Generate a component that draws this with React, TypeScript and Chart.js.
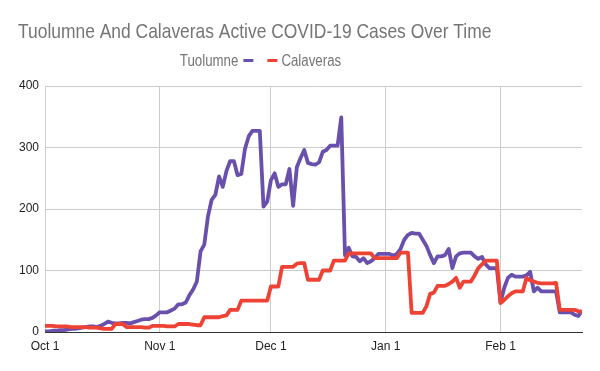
import React, { useEffect, useRef } from 'react';
import { Chart, registerables } from 'chart.js';

Chart.register(...registerables);

const TITLE = 'Tuolumne And Calaveras Active COVID-19 Cases Over Time';
const SERIES_NAMES = ['Tuolumne', 'Calaveras'];
const SERIES_COLORS = ['#6a50ad', '#ee4235'];
const MONTHS = ['Jan', 'Feb', 'Mar', 'Apr', 'May', 'Jun', 'Jul', 'Aug', 'Sep', 'Oct', 'Nov', 'Dec'];
const START_YEAR = 2020;
const START_MONTH = 9; // October
const Y_TICKS = [0, 100, 200, 300, 400];

const tuolumne = [
  1, 1, 2, 2, 3, 3, 4, 5, 5, 6,
  7, 8, 9, 9, 8, 10, 13, 17, 15, 14,
  14, 15, 15, 14, 16, 18, 20, 21, 21, 23,
  27, 32, 32, 32, 35, 38, 45, 45, 48, 60,
  69, 82, 131, 142, 188, 215, 223, 253, 236, 262,
  278, 278, 255, 257, 298, 318, 327, 327, 327, 204,
  212, 247, 258, 236, 240, 240, 265, 205, 268, 283,
  296, 275, 273, 272, 276, 293, 296, 303, 303, 303,
  349, 125, 137, 123, 122, 115, 120, 112, 115, 120,
  127, 127, 127, 127, 124, 127, 135, 150, 158, 161,
  160, 160, 150, 140, 125, 112, 123, 123, 125, 135,
  104, 123, 128, 129, 129, 129, 123, 119, 122, 110,
  104, 104, 104, 48, 72, 88, 93, 90, 90, 90,
  92, 98, 66, 72, 66, 66, 66, 66, 66, 32,
  32, 32, 32, 28, 26, 35,
];

const calaveras = [
  10, 10, 10, 9, 9, 9, 9, 8, 8, 8,
  8, 8, 7, 7, 7, 6, 5, 5, 5, 13,
  13, 13, 8, 8, 8, 8, 8, 7, 7, 10,
  10, 10, 10, 9, 9, 9, 13, 13, 13, 13,
  12, 11, 11, 24, 24, 24, 24, 24, 26, 27,
  36, 36, 36, 51, 51, 51, 51, 51, 51, 51,
  51, 74, 74, 74, 106, 106, 106, 106, 111, 112,
  112, 85, 85, 85, 85, 100, 100, 100, 116, 116,
  116, 116, 128, 128, 128, 128, 128, 128, 128, 120,
  120, 120, 120, 120, 120, 120, 129, 129, 129, 31,
  31, 31, 31, 42, 62, 64, 75, 75, 75, 78,
  82, 88, 72, 82, 82, 82, 92, 104, 110, 116,
  116, 116, 116, 47, 52, 58, 63, 66, 66, 66,
  88, 84, 82, 80, 79, 79, 79, 79, 80, 36,
  36, 36, 36, 36, 34, 33,
];

// Day labels (one per data point)
const dayLabels: string[] = [];
const monthStartIdx: number[] = [];
for (let i = 0; i < tuolumne.length; i++) {
  const d = new Date(START_YEAR, START_MONTH, 1 + i);
  dayLabels.push(`${MONTHS[d.getMonth()]} ${d.getDate()}`);
  if (d.getDate() === 1) monthStartIdx.push(i);
}

const FONT = '"Liberation Sans", Arial, sans-serif';

function drawNarrow(ctx: CanvasRenderingContext2D, text: string, x: number, y: number, sx: number) {
  ctx.save();
  ctx.translate(x, y);
  ctx.scale(sx, 1);
  ctx.fillText(text, 0, 0);
  ctx.restore();
}

const headerPlugin = {
  id: 'header',
  afterDraw(chart: any) {
    const ctx: CanvasRenderingContext2D = chart.ctx;
    const sx = 0.83;
    ctx.save();
    ctx.textBaseline = 'alphabetic';
    ctx.textAlign = 'left';
    ctx.fillStyle = '#757575';
    ctx.font = `21px ${FONT}`;
    drawNarrow(ctx, TITLE, 18, 38, sx);

    ctx.font = `16px ${FONT}`;
    const w1 = ctx.measureText(SERIES_NAMES[0]).width * sx;
    const w2 = ctx.measureText(SERIES_NAMES[1]).width * sx;
    const mark = 10;
    const total = w1 + 5 + mark + 14 + mark + 4 + w2;
    let x = 260.5 - total / 2;
    const base = 66;
    ctx.fillStyle = '#757575';
    drawNarrow(ctx, SERIES_NAMES[0], x, base, sx);
    x += w1 + 5;
    ctx.fillStyle = SERIES_COLORS[0];
    ctx.fillRect(x, 59, mark, 3);
    x += mark + 14;
    ctx.fillStyle = SERIES_COLORS[1];
    ctx.fillRect(x, 59, mark, 3);
    x += mark + 4;
    ctx.fillStyle = '#757575';
    drawNarrow(ctx, SERIES_NAMES[1], x, base, sx);
    ctx.restore();
  },
};

export default function App() {
  const ref = useRef<HTMLCanvasElement | null>(null);

  useEffect(() => {
    if (!ref.current) return;
    const toXY = (arr: number[]) => arr.map((v, i) => ({ x: i, y: v }));
    const chart = new Chart(ref.current, {
      type: 'line',
      data: {
        labels: dayLabels,
        datasets: [
          {
            label: SERIES_NAMES[0],
            data: toXY(tuolumne),
            borderColor: SERIES_COLORS[0],
            backgroundColor: SERIES_COLORS[0],
            borderWidth: 3.8,
            pointRadius: 0,
            tension: 0,
            borderJoinStyle: 'round',
            order: 1,
          },
          {
            label: SERIES_NAMES[1],
            data: toXY(calaveras),
            borderColor: SERIES_COLORS[1],
            backgroundColor: SERIES_COLORS[1],
            borderWidth: 3.8,
            pointRadius: 0,
            tension: 0,
            borderJoinStyle: 'round',
            order: 0,
          },
        ],
      },
      options: {
        responsive: false,
        animation: false,
        events: [],
        layout: { padding: { top: 86, right: 18, left: 0, bottom: 0 } },
        plugins: {
          legend: { display: false },
          title: { display: false },
          tooltip: { enabled: false },
        },
        scales: {
          x: {
            type: 'linear',
            min: 0,
            max: tuolumne.length - 1,
            afterBuildTicks: (scale: any) => {
              scale.ticks = monthStartIdx.map((v) => ({ value: v }));
            },
            afterFit: (scale: any) => {
              scale.height = 39;
            },
            ticks: {
              autoSkip: false,
              maxRotation: 0,
              padding: 7,
              color: '#222',
              font: { family: FONT, size: 12 },
              callback: (value: any) => dayLabels[Math.round(Number(value))],
            },
            grid: { color: '#cccccc', lineWidth: 1, drawTicks: false },
            border: { display: true, color: '#333', width: 1 },
          },
          y: {
            min: 0,
            max: 400,
            afterBuildTicks: (scale: any) => {
              scale.ticks = Y_TICKS.map((v) => ({ value: v }));
            },
            afterFit: (scale: any) => {
              scale.width = 45;
            },
            ticks: {
              padding: 6,
              color: '#222',
              font: { family: FONT, size: 12 },
            },
            grid: {
              color: (c: any) => (c.tick && c.tick.value === 0 ? '#333' : '#cccccc'),
              lineWidth: 1,
              drawTicks: false,
            },
            border: { display: false },
          },
        },
      },
      plugins: [headerPlugin],
    } as any);
    return () => chart.destroy();
  }, []);

  return (
    <div style={{ position: 'fixed', left: 0, top: 0, width: 600, height: 371, background: '#fff' }}>
      <canvas ref={ref} width={600} height={371} style={{ display: 'block', width: 600, height: 371 }} />
    </div>
  );
}
